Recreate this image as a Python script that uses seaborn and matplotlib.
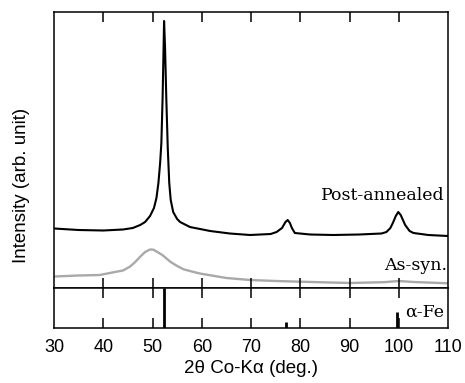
import matplotlib
matplotlib.use('Agg')
import matplotlib.pyplot as plt
import seaborn as sns

# Post-annealed pattern (2theta, intensity in arb. units)
post_2theta = [30, 35, 40, 44, 46, 47.5, 48.5, 49.5, 50.3, 50.8, 51.2, 51.55, 51.8,
               52.05, 52.25, 52.35, 52.55, 52.8, 53.1, 53.4, 53.7, 54.2, 55.0, 55.6,
               57.6, 61.7, 65.7, 69.8, 74.0, 75.2, 76.3, 77.0, 77.45, 77.9, 78.3, 78.9,
               82, 86.7, 92, 96.5, 97.5, 98.3, 98.8, 99.4, 99.9, 100.4, 101.3, 102.2,
               103, 106, 110]
post_int = [59.5, 58, 57.5, 58.5, 60, 63, 66, 72, 80, 90, 105, 125, 145,
            190, 240, 267, 240, 190, 140, 105, 88, 76, 69, 66,
            61, 57, 54.5, 53, 54, 56, 60, 66, 68, 65, 60, 55,
            53.5, 53, 53.5, 54.5, 56, 60, 65, 72, 76, 73, 63, 57,
            55, 53, 52]

# As-synthesized pattern
as_2theta = [30, 35, 39.3, 42.7, 44, 45.4, 46.5, 47.5, 48.5, 49.5, 50.2, 50.8, 52,
             53.6, 55, 56.3, 58, 59.6, 62, 65, 69.8, 75, 80, 90, 97, 100, 103, 110]
as_int = [11.5, 12.5, 13, 16.3, 17.5, 21.3, 26, 31.3, 36, 38.5, 38.3, 36.5, 33,
          26.3, 22, 18.7, 16.5, 14.5, 12.5, 10, 8, 7, 6.3, 5, 5.8, 7, 6, 4.7]

# alpha-Fe reference lines (relative intensity)
fe_2theta = [52.4, 77.2, 99.7]
fe_int = [100, 15, 40]

x_ticks = list(range(30, 111, 10))

plt.rcParams['font.family'] = ['Liberation Sans', 'DejaVu Sans']
plt.rcParams['axes.linewidth'] = 1.1

fig = plt.figure(figsize=(4.65, 3.83), dpi=100)
ax = fig.add_axes([54 / 465, 95 / 383, 394 / 465, 276 / 383])
ax2 = fig.add_axes([54 / 465, 55 / 383, 394 / 465, 40 / 383])

sns.lineplot(x=post_2theta, y=post_int, ax=ax, color='black', linewidth=1.5)
sns.lineplot(x=as_2theta, y=as_int, ax=ax, color='#a9a9a9', linewidth=1.7)

# inward ticks on both edges of both panels (native inward ticks did not render)
for a, frac in ((ax, 10 / 276), (ax2, 10 / 40)):
    a.set_xlim(30, 110)
    a.set_xticks(x_ticks)
    a.set_yticks([])
    a.tick_params(axis='x', length=0)
    tr = a.get_xaxis_transform()
    a.vlines(x_ticks[1:-1], 0, frac, transform=tr, color='black', linewidth=1.1)
    a.vlines(x_ticks[1:-1], 1 - frac, 1, transform=tr, color='black', linewidth=1.1)

ax.set_ylim(0, 276)
ax.tick_params(axis='x', labelbottom=False)
ax.set_ylabel('Intensity (arb. unit)', fontsize=13.5)
ax.yaxis.set_label_coords(-0.062, 0.37)

serif = ['DejaVu Serif']
ax.text(109.4, 92, 'Post-annealed', ha='right', va='center', fontsize=12.5,
        family=serif)
ax.text(109.9, 23, 'As-syn.', ha='right', va='center', fontsize=12.5, family=serif)

ax2.vlines(fe_2theta, 0, fe_int, color='black', linewidth=2)
ax2.set_ylim(0, 100)
ax2.tick_params(axis='x', labelsize=13, pad=8)
ax2.set_xlabel('2θ Co-Kα (deg.)', fontsize=13.5, labelpad=3)
ax2.text(109.2, 40, 'α-Fe', ha='right', va='center', fontsize=12.5, family=serif)

fig.savefig('out.png', dpi=100)
